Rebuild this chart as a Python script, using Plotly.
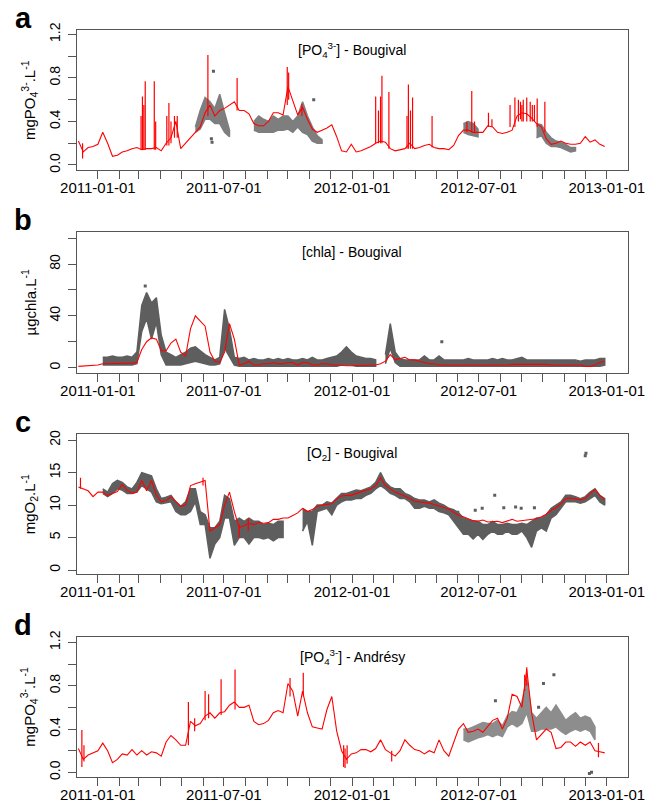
import pandas as pd
import plotly.graph_objects as go

N = None
weeks = pd.date_range("2010-12-04", periods=109, freq="7D")

# ---------------- panel a : PO4 Bougival ----------------
a_model = [0.22,0.12,0.16,0.17,0.19,0.30,0.20,0.08,0.09,0.12,
           0.13,0.15,0.16,0.14,0.15,0.15,0.16,0.13,0.20,0.25,
           0.40,0.15,0.20,0.25,0.30,0.35,0.48,0.55,0.45,0.50,
           0.52,0.55,0.58,0.50,0.50,0.47,0.38,0.36,0.36,0.40,
           0.48,0.48,0.46,0.72,0.58,0.46,0.53,0.42,0.33,0.30,
           0.32,0.34,0.37,0.26,0.13,0.12,0.19,0.12,0.13,0.15,
           0.17,0.20,0.22,0.21,0.15,0.13,0.14,0.15,0.20,0.15,
           0.16,0.18,0.19,0.16,0.15,0.15,0.14,0.18,0.27,0.32,
           0.32,0.30,0.30,0.30,0.36,0.35,0.30,0.29,0.30,0.32,
           0.45,0.48,0.47,0.43,0.38,0.35,0.24,0.19,0.20,0.22,
           0.20,0.19,0.19,0.20,0.26,0.21,0.23,0.19,0.17]
a_spike_dates = ["2010-12-10","2011-03-04","2011-03-06","2011-03-08","2011-03-10",
                 "2011-03-23","2011-03-25","2011-04-10","2011-04-13","2011-04-16",
                 "2011-04-21","2011-04-25","2011-06-08","2011-07-20","2011-09-30",
                 "2011-10-02","2011-10-21","2012-02-04","2012-02-08","2012-02-11",
                 "2012-02-13","2012-02-23","2012-03-20","2012-03-22","2012-03-25",
                 "2012-03-28","2012-04-25","2012-06-14","2012-06-21","2012-06-25",
                 "2012-07-15","2012-07-20","2012-08-15","2012-08-22","2012-08-27",
                 "2012-08-30","2012-09-01","2012-09-03","2012-09-08","2012-09-13",
                 "2012-09-16","2012-09-19","2012-09-23","2012-10-04"]
a_spike_lo = [0.06,0.14,0.14,0.14,0.14,0.14,0.14,0.18,0.18,0.20,
              0.25,0.25,0.45,0.50,0.55,0.60,0.45,0.20,0.20,0.20,
              0.20,0.15,0.15,0.15,0.15,0.15,0.16,0.30,0.30,0.30,
              0.35,0.35,0.35,0.35,0.40,0.42,0.40,0.40,0.40,0.40,
              0.40,0.40,0.35,0.30]
a_spike_hi = [0.20,0.45,0.63,0.55,0.77,0.77,0.40,0.45,0.57,0.40,
              0.45,0.45,1.01,0.80,0.90,0.85,0.56,0.63,0.50,0.63,
              0.82,0.67,0.45,0.74,0.50,0.62,0.45,0.40,0.68,0.40,
              0.48,0.42,0.55,0.62,0.60,0.58,0.55,0.60,0.62,0.58,
              0.55,0.55,0.61,0.58]
a_obs_lo = [N,N,N,N,N,N,N,N,N,N, N,N,N,N,N,N,N,N,N,N, N,N,N,N,
            0.30,0.33,0.42,0.42,0.38,0.38,0.30,0.26, N,N,N,N,
            0.32,0.30,0.30,0.30,0.30,0.32,0.32,0.33,0.30,0.35,0.30,0.28,0.22,0.20,0.20,
            N,N,N,N,N,N,N,N,N,N, N,N,N,N,N,N,N,N,N,N, N,N,N,N,N,N,N,N,
            0.30,0.28,0.27,0.26, N,N,N,N,N,N,N,N,N,N,N,
            0.25,0.27,0.20,0.17,0.17,0.16,0.14,0.12,0.13, N,N,N,N,N,N]
a_obs_hi = [N,N,N,N,N,N,N,N,N,N, N,N,N,N,N,N,N,N,N,N, N,N,N,N,
            0.35,0.50,0.62,0.58,0.52,0.65,0.48,0.32, N,N,N,N,
            0.40,0.45,0.42,0.40,0.45,0.42,0.45,0.45,0.40,0.45,0.58,0.45,0.35,0.27,0.23,
            N,N,N,N,N,N,N,N,N,N, N,N,N,N,N,N,N,N,N,N, N,N,N,N,N,N,N,N,
            0.38,0.40,0.38,0.33, N,N,N,N,N,N,N,N,N,N,N,
            0.38,0.37,0.30,0.25,0.22,0.21,0.19,0.16,0.16, N,N,N,N,N,N]
a_out_dates = ["2011-06-16","2011-06-14","2011-06-13","2011-11-07"]
a_out_vals = [0.86,0.21,0.24,0.60]

# ---------------- panel b : chla Bougival ----------------
b_model = [1.0,1.2,1.4,1.6,2.0,3.0,3.0,3.0,3.0,3.0,
           3.0,3.5,4.0,14,20,23,22,13,13,19,
           22,12,9,30,40,36,32,12,5,4,
           12,34,22,2,3,5,2,2,3,3,
           4,3,3,4,4,2,4,4,2,2,
           3,3,2,2,1.5,1.5,1.5,1.5,1.5,1.5,
           1.5,2,3,5,10,6,7,8,6,6,
           5,4,3,3,2,2,2,1.5,1.5,1.5,
           1.5,1.5,1.5,1.5,2,2,2,2,2,2.5,
           2.5,2.5,2.5,2.5,2.5,3,2.5,2,2,2,
           2,2.5,2,2,1,1,2,4,5]
b_obs_lo = [N,N,N,N,N, 2,2,2,2,2,2,2,3, 28,38,22,35,10, 2,2,2,2,3,4,5,4,3,2,2,3, 15,8,2,
            1,1,1,1,1,1,1,1,1,1,1,1,1,1,1,1,1,1,1,
            1,1,2,2,2,1,1,1,1,1, N, 3,15,4,
            1,1,1,1,1,1,1,1,1,1, 1,1,1,1,1,1,1,1,1,1, 1,1,1,1,1,1,1,1,1,1,
            1,1,1,1,1,1,1,1,1,1, 1,1,2]
b_obs_hi = [N,N,N,N,N, 8,8,9,8,8,9,8,12, 48,58,50,54,25, 12,10,8,10,12,15,16,13,10,8,6,8, 45,30,8,
            7,8,6,7,6,6,7,6,7,6,7,6,6,7,6,8,6,6,7,
            8,9,12,16,12,9,8,7,7,6, N, 10,34,12,
            7,6,6,6,6,9,6,6,9,6, 6,6,6,6,7,6,6,6,6,7, 6,7,6,6,7,8,6,6,6,6,
            6,6,6,6,6,6,6,5,6,6, 6,7,7]
b_out_dates = ["2011-03-10","2012-05-09"]
b_out_vals = [63,20]

# ---------------- panel c : O2 Bougival ----------------
c_model = [12.8,12.5,12.2,11.3,12.0,12.0,11.5,11.8,12.1,13.2,
           12.3,11.8,12.0,13.8,12.2,13.8,11.5,10.5,10.7,11.3,
           10.5,9.8,10.0,13.0,13.3,13.5,13.8,6.0,6.5,7.0,
           10.0,12.0,9.0,6.5,6.8,7.2,7.0,7.3,7.2,7.3,
           7.8,7.8,8.0,8.0,8.4,8.8,9.5,9.0,9.3,9.8,
           10.0,10.1,10.2,11.0,11.4,11.5,11.5,11.8,12.0,12.3,
           12.5,13.0,14.2,13.0,12.5,12.0,11.7,11.4,11.0,10.6,
           10.5,10.5,10.3,10.1,9.9,9.6,9.4,8.9,8.4,8.2,
           7.9,7.6,7.5,7.7,7.4,7.4,7.5,7.3,7.6,7.8,
           7.5,7.6,7.7,7.8,7.9,8.2,8.6,9.2,9.6,10.2,
           11.0,11.1,10.9,10.8,11.0,11.8,12.4,11.5,10.8]
c_spike_dates = ["2010-12-07","2011-06-01","2011-07-23","2011-08-05"]
c_spike_lo = [12.5,13.0,5.0,6.0]
c_spike_hi = [14.2,14.2,7.0,8.0]
c_obs_lo = [N,N,N,N,N,
            11.8,11.3,11.8,12.5,12.3,11.8,11.8,12.0,13.0,12.5,12.0,10.5,10.2,10.3,10.5,
            9.0,8.5,8.5,9.0,10.5,7.0,7.0,1.8,4.0,5.0,8.0,8.0,3.8,5.0,5.0,4.0,5.0,5.0,4.8,5.0,
            4.5,5.0,5.0,
            N,N,N,
            6.0,7.5,3.8,9.0,9.3,9.5,8.5,10.0,10.5,10.8,10.8,11.0,11.0,11.5,11.8,12.5,
            13.0,12.5,11.8,11.5,11.0,11.0,10.5,9.5,9.5,9.8,9.5,9.5,9.0,8.8,8.5,7.5,
            6.5,5.5,5.5,4.8,5.5,4.7,5.5,6.0,5.5,5.5,6.0,5.5,5.5,6.0,5.0,3.5,
            6.0,6.5,6.0,8.0,8.5,9.5,10.5,10.5,10.5,10.3,10.5,11.0,11.5,10.5,10.0]
c_obs_hi = [N,N,N,N,N,
            12.5,12.0,13.3,13.8,13.5,12.8,12.5,13.5,15.0,14.8,14.5,12.5,11.0,11.2,11.5,
            10.5,9.8,10.5,12.5,12.5,9.0,8.5,6.5,6.5,7.5,11.5,11.0,7.5,8.0,7.5,8.0,7.5,7.5,7.0,7.2,
            7.0,7.5,7.5,
            N,N,N,
            9.5,9.0,9.0,10.0,10.0,10.5,10.3,11.0,11.8,11.8,12.0,12.3,12.2,12.5,12.8,13.5,
            15.0,13.5,12.8,12.5,12.5,11.8,11.5,11.0,10.8,10.8,10.5,10.8,10.3,10.0,9.5,9.3,
            8.8,8.0,7.8,7.5,7.5,7.0,7.0,7.5,7.0,7.0,7.2,7.0,7.0,7.2,7.0,7.5,
            8.0,8.0,8.5,9.5,10.0,10.5,11.5,11.5,11.3,11.0,11.3,12.0,12.5,11.5,11.0]
c_out_dates = ["2012-12-01","2012-12-02","2012-06-01","2012-06-26","2012-07-06",
               "2012-07-24","2012-08-06","2012-08-23","2012-08-31","2012-09-19"]
c_out_vals = [17.6,18.0,8.9,9.2,9.5,11.5,9.6,9.7,9.5,9.6]

# ---------------- panel d : PO4 Andresy ----------------
d_model = [0.22,0.12,0.16,0.18,0.20,0.27,0.20,0.09,0.12,0.17,
           0.16,0.21,0.16,0.20,0.16,0.19,0.18,0.15,0.28,0.34,
           0.30,0.25,0.25,0.47,0.43,0.45,0.52,0.55,0.50,0.55,
           0.56,0.62,0.65,0.60,0.60,0.62,0.47,0.44,0.45,0.48,
           0.55,0.57,0.55,0.82,0.75,0.52,0.75,0.55,0.42,0.41,
           0.40,0.58,0.70,0.38,0.20,0.12,0.17,0.18,0.21,0.21,
           0.19,0.22,0.30,0.21,0.18,0.15,0.20,0.30,0.25,0.21,
           0.20,0.17,0.20,0.18,0.30,0.20,0.15,0.28,0.40,0.45,
           0.37,0.38,0.40,0.37,0.42,0.48,0.50,0.40,0.50,0.72,
           0.70,0.60,0.95,0.55,0.30,0.35,0.40,0.37,0.22,0.23,
           0.28,0.28,0.24,0.28,0.25,0.28,0.20,0.19,0.18]
d_spike_dates = ["2010-12-09","2010-12-12","2011-05-11","2011-05-20","2011-06-04",
                 "2011-06-09","2011-06-27","2011-07-17","2011-10-04","2011-10-23",
                 "2011-12-20","2011-12-22","2011-12-25","2012-02-27","2012-09-05",
                 "2012-09-08","2012-12-20"]
d_spike_lo = [0.05,0.10,0.25,0.38,0.48,0.50,0.53,0.58,0.70,0.70,
              0.05,0.04,0.08,0.10,0.75,0.80,0.14]
d_spike_hi = [0.39,0.25,0.65,0.50,0.75,0.72,0.86,0.95,0.87,0.92,
              0.25,0.22,0.25,0.20,0.90,0.97,0.27]
d_obs_lo = [N]*79 + [0.30,0.28,0.30,0.32,0.33,0.35,0.33,0.35,0.33,0.42,0.45,0.42,0.45,0.55,
                     0.38,0.38,0.40,0.40,0.40,0.42,0.38,0.35,0.38,0.40,0.38,0.40,0.38,0.30] + [N, N]
d_obs_hi = [N]*79 + [0.40,0.40,0.42,0.44,0.46,0.45,0.45,0.48,0.43,0.52,0.56,0.55,0.65,0.85,
                     0.55,0.50,0.55,0.60,0.55,0.62,0.55,0.48,0.52,0.55,0.50,0.52,0.50,0.42] + [N, N]
d_out_dates = ["2012-07-25","2012-10-02","2012-10-17","2012-09-25","2012-12-07","2012-12-10"]
d_out_vals = [0.66,0.82,0.90,0.60,-0.01,0.0]

# ---------------- text ----------------
x_tick_labels = ["2011-01-01", "2011-07-01", "2012-01-01", "2012-07-01", "2013-01-01"]
titles = ["[PO<sub>4</sub><sup>3-</sup>] - Bougival", "[chla] - Bougival",
          "[O<sub>2</sub>] - Bougival", "[PO<sub>4</sub><sup>3-</sup>] - Andrésy"]
ylabels = ["mgPO<sub>4</sub><sup>3-</sup>.L<sup>-1</sup>", "µgchla.L<sup>-1</sup>",
           "mgO<sub>2</sub>.L<sup>-1</sup>", "mgPO<sub>4</sub><sup>3-</sup>.L<sup>-1</sup>"]
letters = ["a", "b", "c", "d"]
# (major label step, minor tick step, label format)
ytick_steps = [(0.4, 0.2, ".1f"), (40, 20, "d"), (5, 5, "d"), (0.4, 0.2, ".1f")]

RED = "#ff0000"
GREY = "#5e5e5e"
W, H = 661, 805
FONT = "Liberation Sans, Arial, sans-serif"

fig = go.Figure()


def add_band(dates, lo, hi, xa, ya, opacity):
    segs, cur = [], []
    for d, l, h in zip(dates, lo, hi):
        if l is None:
            if cur:
                segs.append(cur)
            cur = []
        else:
            cur.append((d, l, h))
    if cur:
        segs.append(cur)
    for seg in segs:
        xs = [s[0] for s in seg] + [s[0] for s in seg[::-1]]
        ys = [s[2] for s in seg] + [s[1] for s in seg[::-1]]
        fig.add_trace(go.Scatter(x=xs, y=ys, mode="lines", fill="toself",
                                 fillcolor=GREY, line=dict(color=GREY, width=1.5),
                                 opacity=opacity, xaxis=xa, yaxis=ya,
                                 showlegend=False, hoverinfo="skip"))


def add_points(dates, vals, xa, ya):
    fig.add_trace(go.Scatter(x=pd.to_datetime(dates), y=vals, mode="markers",
                             marker=dict(color=GREY, size=3, symbol="square"),
                             xaxis=xa, yaxis=ya, showlegend=False))


def add_spikes(dates, lo, hi, xa, ya):
    xs, ys = [], []
    for d, l, h in zip(pd.to_datetime(dates), lo, hi):
        xs += [d, d, None]
        ys += [l, h, None]
    fig.add_trace(go.Scatter(x=xs, y=ys, mode="lines", line=dict(color=RED, width=1.2),
                             xaxis=xa, yaxis=ya, showlegend=False))


def add_model(vals, xa, ya):
    fig.add_trace(go.Scatter(x=weeks, y=vals, mode="lines", line=dict(color=RED, width=1.1),
                             xaxis=xa, yaxis=ya, showlegend=False))


panels = [
    dict(model=a_model, lo=a_obs_lo, hi=a_obs_hi, sd=a_spike_dates, sl=a_spike_lo, sh=a_spike_hi,
         od=a_out_dates, ov=a_out_vals, op=0.8),
    dict(model=b_model, lo=b_obs_lo, hi=b_obs_hi, sd=None, od=b_out_dates, ov=b_out_vals, op=1.0),
    dict(model=c_model, lo=c_obs_lo, hi=c_obs_hi, sd=c_spike_dates, sl=c_spike_lo, sh=c_spike_hi,
         od=c_out_dates, ov=c_out_vals, op=1.0),
    dict(model=d_model, lo=d_obs_lo, hi=d_obs_hi, sd=d_spike_dates, sl=d_spike_lo, sh=d_spike_hi,
         od=d_out_dates, ov=d_out_vals, op=0.7),
]

# pixel boxes of each panel (top, bottom)
boxes = [(30, 170), (232.3, 372.7), (434.3, 574.3), (636.7, 776.7)]
yranges = [[-0.046, 1.24], [-3.9, 104.5], [-0.66, 20.9], [-0.04, 1.252]]
xdom = [77 / W, 627.7 / W]

layout = dict(template="none", width=W, height=H,
              margin=dict(l=0, r=0, t=0, b=0, pad=0, autoexpand=False),
              paper_bgcolor="white", plot_bgcolor="white",
              font=dict(family=FONT, size=15, color="black"), showlegend=False)
annotations = []

for i, p in enumerate(panels):
    n = "" if i == 0 else str(i + 1)
    xa, ya = "x" + n, "y" + n
    add_band(weeks, p["lo"], p["hi"], xa, ya, p["op"])
    add_points(p["od"], p["ov"], xa, ya)
    add_model(p["model"], xa, ya)
    if p["sd"] is not None:
        add_spikes(p["sd"], p["sl"], p["sh"], xa, ya)
    top, bot = boxes[i]
    major, minor, fmt = ytick_steps[i]
    layout["xaxis" + n] = dict(
        domain=xdom, anchor=ya, type="date", range=["2010-12-02", "2013-01-31"],
        tickvals=pd.to_datetime(x_tick_labels), ticktext=x_tick_labels,
        ticks="outside", ticklen=8, tickcolor="#555", tickwidth=1,
        minor=dict(dtick="M1", tick0="2011-01-01", ticks="outside", ticklen=8,
                   tickcolor="#555", tickwidth=1, showgrid=False),
        showline=True, mirror=True, linecolor="#555", linewidth=1, automargin=False,
        showgrid=False, zeroline=False, tickfont=dict(size=15), ticklabelstandoff=-4)
    layout["yaxis" + n] = dict(
        domain=[(H - bot) / H, (H - top) / H], anchor=xa, range=yranges[i],
        tick0=0, dtick=major, tickformat=fmt, tickangle=-90,
        ticks="outside", ticklen=8, tickcolor="#555", tickwidth=1,
        minor=dict(tick0=0, dtick=minor, ticks="outside", ticklen=8,
                   tickcolor="#555", tickwidth=1, showgrid=False),
        showline=True, mirror=True, linecolor="#555", linewidth=1, automargin=False,
        showgrid=False, zeroline=False, tickfont=dict(size=14), ticklabelstandoff=2)
    mid = (top + bot) / 2
    annotations.append(dict(text=ylabels[i], x=29 / W, y=(H - mid) / H, xref="paper", yref="paper",
                            textangle=-90, showarrow=False, xanchor="center", yanchor="middle",
                            font=dict(size=15)))
    annotations.append(dict(text=titles[i], x=352 / W, y=(H - (top + 20)) / H, xref="paper",
                            yref="paper", showarrow=False, xanchor="center", yanchor="middle",
                            font=dict(size=14)))
    annotations.append(dict(text="<b>" + letters[i] + "</b>", x=23 / W, y=(H - (top - 12)) / H,
                            xref="paper", yref="paper", showarrow=False, xanchor="center",
                            yanchor="middle", font=dict(size=29)))

layout["annotations"] = annotations
fig.update_layout(**layout)
fig.write_html("out.html")
